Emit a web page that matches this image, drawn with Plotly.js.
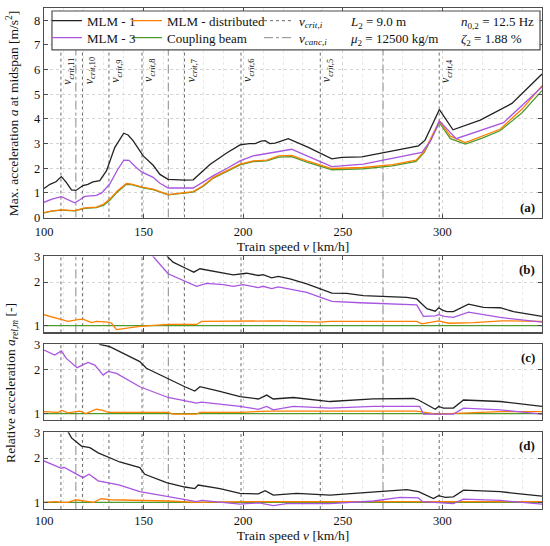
<!DOCTYPE html>
<html>
<head>
<meta charset="utf-8">
<script src="https://cdn.plot.ly/plotly-3.0.1.min.js"></script>
<style>html,body{margin:0;padding:0;background:#fff;}#chart{width:550px;height:546px;}</style>
</head>
<body>
<div id="chart"></div>
<script>
// ---------- data ----------
const vCrit = [298.4, 238.7, 198.9, 170.5, 149.2, 132.6, 119.3, 108.5];
const vCritIdx = ['4', '5', '6', '7', '8', '9', '10', '11'];
const vCanc = [270.2, 162.4, 116.0];

// panel (a): max acceleration [m/s^2]
const aX_mlm1 = [100, 103, 106, 108.7, 111, 113.8, 116, 119.6, 122, 124.6, 128, 131.4, 135.5, 140, 142.2, 144.7, 149.8, 154.8, 158.2, 162.3, 170.7, 174.9, 183.3, 191.7, 198.4, 203, 206, 209, 211, 213.4, 216, 222.6, 232.7, 244.5, 249.5, 259.5, 271.2, 288, 291.3, 296.4, 298.5, 305.3, 319, 334.9, 350];
const aY_mlm1 = [1.18, 1.35, 1.45, 1.66, 1.45, 1.12, 1.1, 1.3, 1.35, 1.45, 1.5, 1.9, 2.84, 3.42, 3.35, 3.12, 2.5, 2.12, 1.75, 1.55, 1.52, 1.53, 2.15, 2.62, 2.95, 3.0, 3.0, 3.1, 3.12, 3.0, 3.02, 3.2, 2.85, 2.38, 2.44, 2.46, 2.64, 2.91, 3.14, 3.99, 4.38, 3.56, 3.95, 4.63, 5.82];
const aX_mlm3 = [100, 104, 108.7, 112, 115.4, 118, 120.5, 126.3, 129, 133, 137, 140.1, 142.7, 146, 149, 154.8, 158, 162.3, 174.9, 180, 185, 192, 198.4, 205, 211.8, 217.8, 224.3, 232, 244.5, 260.3, 275, 289.7, 294, 298.5, 306.9, 318, 330.7, 350];
const aY_mlm3 = [0.62, 0.75, 0.85, 0.72, 0.6, 0.72, 0.86, 0.9, 1.0, 1.36, 1.95, 2.33, 2.32, 2.05, 1.85, 1.63, 1.4, 1.2, 1.2, 1.45, 1.7, 2.0, 2.3, 2.5, 2.6, 2.68, 2.77, 2.5, 2.07, 2.17, 2.4, 2.64, 3.1, 3.92, 3.2, 3.5, 3.85, 5.3];
const aX_dist = [100, 104, 108.7, 115.4, 120.5, 126.3, 130, 133, 137, 141.4, 143.9, 149.8, 154.8, 162.3, 174.9, 180, 185, 192, 198.4, 205, 211.8, 217.8, 224.3, 232, 244.5, 260.3, 275, 286.8, 291, 298.5, 304, 311.5, 320, 328.9, 340, 350];
const aY_dist = [0.2, 0.27, 0.31, 0.28, 0.39, 0.42, 0.55, 0.75, 1.1, 1.38, 1.36, 1.22, 1.15, 0.93, 1.05, 1.3, 1.63, 1.9, 2.17, 2.3, 2.33, 2.5, 2.52, 2.3, 1.99, 2.03, 2.15, 2.33, 2.7, 3.92, 3.3, 3.04, 3.3, 3.58, 4.4, 5.35];
const aY_beam = [0.19, 0.26, 0.3, 0.27, 0.37, 0.4, 0.5, 0.7, 1.05, 1.35, 1.34, 1.2, 1.13, 0.92, 1.03, 1.27, 1.6, 1.87, 2.14, 2.27, 2.3, 2.45, 2.47, 2.25, 1.94, 1.98, 2.1, 2.28, 2.65, 3.85, 3.2, 2.98, 3.22, 3.52, 4.25, 5.15];

// panel (b): relative acceleration [-]
const bX_mlm1 = [158, 162.3, 164.8, 171.6, 175.2, 178.3, 185, 195, 201.7, 207.6, 210, 214.3, 217.6, 223.5, 231.9, 244.5, 252, 260.3, 282.1, 287.1, 292.2, 296.4, 298.1, 300, 302.2, 305.5, 313.1, 320.6, 329, 335.7, 350];
const bY_mlm1 = [3.4, 2.97, 2.74, 2.47, 2.34, 2.47, 2.38, 2.24, 2.30, 2.22, 2.25, 2.14, 2.19, 2.1, 1.94, 1.68, 1.67, 1.61, 1.57, 1.53, 1.31, 1.26, 1.33, 1.28, 1.25, 1.25, 1.41, 1.34, 1.33, 1.25, 1.16];
const bX_mlm3 = [150, 154.8, 162.3, 176.6, 181.6, 190, 195, 200, 207.6, 210, 214.3, 217.6, 231.9, 244.5, 258.7, 282.1, 287.1, 290.5, 296.4, 298.1, 301, 305.5, 313.1, 329, 350];
const bY_mlm3 = [3.5, 3.0, 2.28, 1.87, 1.96, 1.92, 1.87, 1.92, 1.83, 1.87, 1.8, 1.85, 1.70, 1.47, 1.44, 1.41, 1.39, 1.16, 1.17, 1.19, 1.16, 1.14, 1.24, 1.14, 1.06];
const bX_dist = [100, 112, 117, 119.6, 123.8, 126.3, 132.2, 133.9, 136.4, 148.1, 162.3, 176.6, 179.1, 198.4, 216.8, 238.6, 243.6, 287.1, 289.7, 298.1, 303.1, 315.6, 329.9, 350];
const bY_dist = [1.19, 1.07, 1.10, 1.11, 1.05, 1.07, 1.06, 1.04, 0.94, 0.99, 1.02, 1.02, 1.07, 1.07, 1.08, 1.06, 1.07, 1.07, 1.03, 1.08, 1.04, 1.05, 1.08, 1.07];

// panel (c)
const cX_mlm1 = [126, 128, 133, 138, 144.7, 148.1, 151.4, 161.5, 170.7, 175.7, 178.3, 188.3, 198.4, 207.6, 211.8, 215.1, 225.2, 243.6, 265.4, 285.5, 288, 296.4, 298.1, 300.5, 305.5, 310.6, 329, 350];
const cY_mlm1 = [3.3, 3.0, 2.89, 2.67, 2.40, 2.28, 2.05, 1.75, 1.53, 1.43, 1.53, 1.42, 1.31, 1.26, 1.34, 1.26, 1.29, 1.21, 1.26, 1.27, 1.24, 1.07, 1.12, 1.09, 1.09, 1.24, 1.21, 1.12];
const cX_mlm3 = [100, 105.4, 108.7, 111.2, 116.6, 122.1, 125.5, 129.7, 132.2, 136.4, 148.1, 162.3, 176.6, 179.1, 198.4, 207.6, 211.8, 215.1, 225.2, 243.6, 265.4, 285.5, 288.6, 290.5, 305.5, 310.6, 329, 350];
const cY_mlm3 = [2.74, 2.53, 2.70, 2.40, 2.07, 2.25, 2.16, 1.84, 1.95, 1.89, 1.53, 1.29, 1.18, 1.20, 1.12, 1.07, 1.12, 1.06, 1.12, 1.09, 1.12, 1.13, 1.12, 0.99, 0.99, 1.09, 1.06, 0.99];
const cX_dist = [100, 107, 109, 112, 118, 121, 126.3, 129.7, 132.2, 162.3, 164.8, 176.6, 178.3, 198.4, 213.4, 287, 297, 305.5, 329, 350];
const cY_dist = [1.03, 1.02, 1.05, 1.01, 1.04, 1.0, 1.07, 1.05, 1.02, 1.02, 0.99, 0.99, 1.02, 1.02, 1.04, 1.04, 0.99, 1.0, 1.03, 1.03];

// panel (d)
const dX_mlm1 = [110, 112, 113.8, 118.8, 123, 127.2, 133, 138, 148.1, 150.6, 161.5, 170.7, 175.7, 177.4, 188.3, 198.4, 207.6, 211, 215.1, 226.8, 243.6, 265.4, 282.1, 288, 295.5, 298.1, 301.4, 305.5, 310.6, 329, 350];
const dY_mlm1 = [3.4, 3.0, 2.74, 2.41, 2.35, 2.17, 2.01, 1.88, 1.72, 1.55, 1.36, 1.27, 1.24, 1.31, 1.24, 1.15, 1.14, 1.20, 1.12, 1.15, 1.12, 1.18, 1.22, 1.18, 1.06, 1.11, 1.08, 1.09, 1.21, 1.18, 1.10];
const dX_mlm3 = [100, 105.4, 108.7, 110, 114.6, 119.6, 122.6, 127.2, 133, 138, 148.1, 162.3, 176.6, 179.1, 198.4, 201.7, 208, 215.1, 221.8, 243.6, 265.4, 278.8, 288, 290, 305.5, 310.6, 329, 350];
const dY_mlm3 = [1.91, 1.77, 1.70, 1.73, 1.59, 1.47, 1.55, 1.40, 1.35, 1.31, 1.18, 1.09, 1.01, 1.03, 0.97, 0.98, 0.99, 0.95, 0.98, 0.98, 1.02, 1.08, 1.07, 1.01, 0.98, 1.05, 1.03, 0.97];
const dX_dist = [100, 106, 108.7, 112, 116, 120, 125, 128.6, 133, 162.3, 176.6, 200, 250, 300, 350];
const dY_dist = [1.0, 1.01, 1.0, 1.0, 1.04, 1.02, 1.0, 1.06, 1.04, 1.02, 1.0, 1.01, 1.01, 1.01, 1.01];

// coupling beam reference in relative panels
const relX_beam = [100, 350];
const relY_beam = [1, 1];

const xTicks = [100, 150, 200, 250, 300, 350];
const panelLetters = ['a', 'b', 'c', 'd'];

// ---------- styling ----------
const FONT = 'Liberation Serif, Times New Roman, serif';
const C_MLM1 = '#222222', C_MLM3 = '#a855e0', C_DIST = '#ff8000', C_BEAM = '#4f9a2e';
const FRAME = '#4d4d4d';

function vlines(vals, lo, hi) {
  const x = [], y = [];
  vals.forEach(v => { x.push(v, v, null); y.push(lo, hi, null); });
  return {x, y};
}

const traces = [];
const suffix = ['', '2', '3', '4'];
const yLims = [[0, 8.5], [0.9, 3], [0.9, 3], [0.9, 3]];

suffix.forEach((s, i) => {
  const vc = vlines(vCrit, yLims[i][0], yLims[i][1]);
  const vk = vlines(vCanc, yLims[i][0], yLims[i][1]);
  traces.push({x: vc.x, y: vc.y, xaxis: 'x' + s, yaxis: 'y' + s, mode: 'lines',
    line: {color: '#6a6a6a', width: 1, dash: 'dot'}, name: '<i>v</i><sub><i>crit,i</i></sub>',
    showlegend: i === 0, legend: 'legend3', hoverinfo: 'skip'});
  traces.push({x: vk.x, y: vk.y, xaxis: 'x' + s, yaxis: 'y' + s, mode: 'lines',
    line: {color: '#8a8a8a', width: 1, dash: 'dashdot'}, name: '<i>v</i><sub><i>canc,i</i></sub>',
    showlegend: i === 0, legend: 'legend6', hoverinfo: 'skip'});
});

function addSeries(s, first, xs, ys, color, name, legend) {
  traces.push({x: xs, y: ys, xaxis: 'x' + s, yaxis: 'y' + s, mode: 'lines',
    line: {color: color, width: 1.3}, name: name, showlegend: first, legend: legend});
}

// panel (a)
addSeries('', true, aX_dist, aY_beam, C_BEAM, 'Coupling beam', 'legend5');
addSeries('', true, aX_dist, aY_dist, C_DIST, 'MLM - distributed', 'legend2');
addSeries('', true, aX_mlm3, aY_mlm3, C_MLM3, 'MLM - 3', 'legend4');
addSeries('', true, aX_mlm1, aY_mlm1, C_MLM1, 'MLM - 1', 'legend');
// panel (b)
addSeries('2', false, relX_beam, relY_beam, C_BEAM, 'Coupling beam', 'legend5');
addSeries('2', false, bX_dist, bY_dist, C_DIST, 'MLM - distributed', 'legend2');
addSeries('2', false, bX_mlm3, bY_mlm3, C_MLM3, 'MLM - 3', 'legend4');
addSeries('2', false, bX_mlm1, bY_mlm1, C_MLM1, 'MLM - 1', 'legend');
// panel (c)
addSeries('3', false, relX_beam, relY_beam, C_BEAM, 'Coupling beam', 'legend5');
addSeries('3', false, cX_dist, cY_dist, C_DIST, 'MLM - distributed', 'legend2');
addSeries('3', false, cX_mlm3, cY_mlm3, C_MLM3, 'MLM - 3', 'legend4');
addSeries('3', false, cX_mlm1, cY_mlm1, C_MLM1, 'MLM - 1', 'legend');
// panel (d)
addSeries('4', false, relX_beam, relY_beam, C_BEAM, 'Coupling beam', 'legend5');
addSeries('4', false, dX_dist, dY_dist, C_DIST, 'MLM - distributed', 'legend2');
addSeries('4', false, dX_mlm3, dY_mlm3, C_MLM3, 'MLM - 3', 'legend4');
addSeries('4', false, dX_mlm1, dY_mlm1, C_MLM1, 'MLM - 1', 'legend');

// ---------- axes ----------
const domains = [[0.5817, 1], [0.3526, 0.504], [0.1773, 0.3287], [0, 0.1534]];
const layout = {
  width: 550, height: 546,
  margin: {l: 44, r: 8, t: 7, b: 37},
  paper_bgcolor: '#fff', plot_bgcolor: '#fff',
  font: {family: FONT, size: 12, color: '#111'},
  showlegend: true,
  annotations: [], shapes: []
};

suffix.forEach((s, i) => {
  const xa = {
    domain: [0, 1], range: [100, 350], anchor: 'y' + s,
    tickvals: xTicks, ticks: 'inside', ticklen: 4, tickcolor: FRAME,
    showline: true, linecolor: FRAME, linewidth: 1.2, mirror: 'ticks',
    showgrid: true, gridcolor: '#d4d4d4', griddash: 'dot', gridwidth: 1,
    minor: {dtick: 10, showgrid: true, gridcolor: '#e8e8e8', griddash: 'dot', ticks: ''},
    zeroline: false, showticklabels: (i === 0 || i === 3),
    tickfont: {family: FONT, size: 12.5, color: '#111'}
  };
  if (i === 0) xa.ticklabelstandoff = 2;
  if (i === 0 || i === 3) {
    xa.title = {text: 'Train speed <i>v</i> [km/h]', font: {family: FONT, size: 13.5, color: '#111'}, standoff: 3};
  }
  if (i > 0) xa.matches = 'x';
  const ya = {
    domain: domains[i], anchor: 'x' + s,
    ticks: 'inside', ticklen: 4, tickcolor: FRAME,
    showline: true, linecolor: FRAME, linewidth: 1.2, mirror: 'ticks',
    showgrid: true, gridcolor: '#d4d4d4', griddash: 'dot', zeroline: false,
    tickfont: {family: FONT, size: 12.5, color: '#111'}
  };
  if (i === 0) {
    ya.range = yLims[0]; ya.dtick = 1; ya.tick0 = 0;
  } else {
    ya.type = 'log';
    ya.range = [Math.log10(yLims[i][0]), Math.log10(yLims[i][1])];
    ya.tickvals = [1, 2, 3]; ya.ticktext = ['1', '2', '3'];
  }
  layout['xaxis' + s] = xa;
  layout['yaxis' + s] = ya;

  // panel letters
  layout.annotations.push({
    text: '<b>(' + panelLetters[i] + ')</b>', xref: 'x' + s + ' domain', yref: 'y' + s + ' domain',
    x: 0.99, y: i === 0 ? 0.05 : 0.83, xanchor: 'right', yanchor: 'middle',
    showarrow: false, font: {family: FONT, size: 13, color: '#111'}
  });
});

// critical speed labels
vCrit.forEach((v, k) => {
  layout.annotations.push({
    text: '<i>v</i><sub><i>crit</i>,' + vCritIdx[k] + '</sub>',
    x: v, y: 5.95, xref: 'x', yref: 'y', xshift: 7, textangle: -90,
    xanchor: 'center', yanchor: 'middle', showarrow: false,
    font: {family: FONT, size: 12, color: '#111'}
  });
});

// y-axis titles
layout.annotations.push({
  text: 'Max. acceleration <i>a</i> at midspan [m/s<sup>2</sup>]', textangle: -90,
  xref: 'paper', yref: 'paper', x: -0.064, y: 0.79, xanchor: 'center', yanchor: 'middle',
  showarrow: false, font: {family: FONT, size: 13.5, color: '#111'}
});
layout.annotations.push({
  text: 'Relative acceleration <i>a</i><sub><i>rel,m</i></sub> [-]', textangle: -90,
  xref: 'paper', yref: 'paper', x: -0.064, y: 0.252, xanchor: 'center', yanchor: 'middle',
  showarrow: false, font: {family: FONT, size: 13.5, color: '#111'}
});

// parameter texts in legend box
const paramText = [
  ['<i>L</i><sub>2</sub> = 9.0 m', 0.6104, 0.9701],
  ['<i>μ</i><sub>2</sub> = 12500 kg/m', 0.6104, 0.9363],
  ['<i>n</i><sub>0,2</sub> = 12.5 Hz', 0.8333, 0.9701],
  ['<i>ζ</i><sub>2</sub> = 1.88 %', 0.8333, 0.9363]
];
paramText.forEach(p => {
  layout.annotations.push({
    text: p[0], xref: 'paper', yref: 'paper', x: p[1], y: p[2],
    xanchor: 'left', yanchor: 'middle', showarrow: false,
    font: {family: FONT, size: 13, color: '#111'}
  });
});

// legend frame
layout.shapes.push({
  type: 'rect', xref: 'paper', yref: 'paper', x0: 0.016, x1: 0.996, y0: 0.9163, y1: 0.994,
  line: {color: FRAME, width: 1.2}, fillcolor: '#ffffff', layer: 'above'
});

const legBase = {yanchor: 'top', xanchor: 'left', bgcolor: 'rgba(0,0,0,0)', borderwidth: 0,
  font: {family: FONT, size: 13, color: '#111'}, orientation: 'v', tracegroupgap: 0};
const row1 = 1.0026, row2 = 0.9687;
const col1 = 0.006, col2 = 0.1667, col3 = 0.4317;
layout.legend = Object.assign({}, legBase, {x: col1, y: row1});
layout.legend2 = Object.assign({}, legBase, {x: col2, y: row1});
layout.legend3 = Object.assign({}, legBase, {x: col3, y: row1});
layout.legend4 = Object.assign({}, legBase, {x: col1, y: row2});
layout.legend5 = Object.assign({}, legBase, {x: col2, y: row2});
layout.legend6 = Object.assign({}, legBase, {x: col3, y: row2});

Plotly.newPlot('chart', traces, layout, {displayModeBar: false, staticPlot: true});
</script>
</body>
</html>
